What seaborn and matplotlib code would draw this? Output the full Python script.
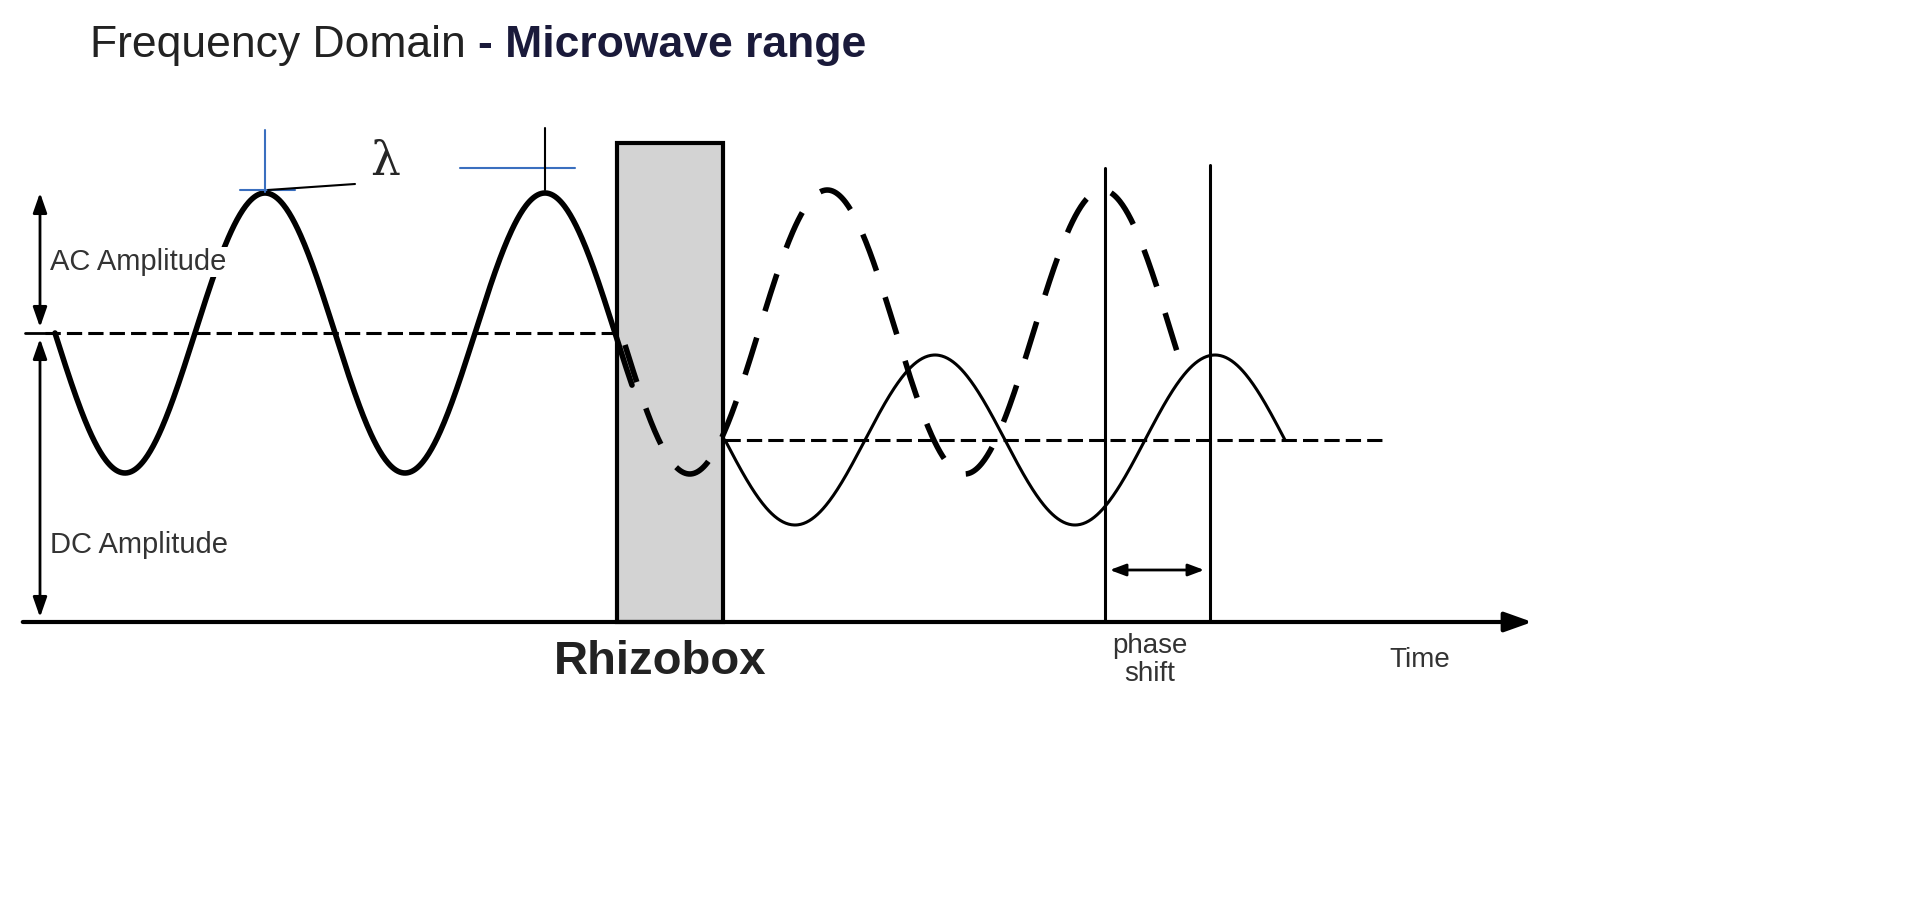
import numpy as np
import pandas as pd
import matplotlib
matplotlib.use("Agg")
import matplotlib.pyplot as plt
import seaborn as sns
from matplotlib.patches import Rectangle

sns.set_theme(style="white")
plt.rcParams['font.family'] = ['Liberation Sans', 'DejaVu Sans']

# wave parameters (pixel space): start x, end x, centre y, amplitude, period
input_wave = dict(x0=55, x1=632, yc=333, amp=140, period=280, start=55)
dashed_wave = dict(x0=625, x1=1180, yc=332, amp=142, period=275, start=621)
output_wave = dict(x0=725, x1=1285, yc=440, amp=85, period=280, start=725)
labels_text = ["AC Amplitude", "DC Amplitude", "phase\nshift", "Time", "Rhizobox"]

def wave(p):
    x = np.linspace(p["x0"], p["x1"], 600)
    y = p["yc"] + p["amp"] * np.sin(2 * np.pi * (x - p["start"]) / p["period"])
    return pd.DataFrame({"x": x, "y": y})

fig = plt.figure(figsize=(19.26, 9.11), dpi=100)
ax = fig.add_axes([0, 0, 1, 1])
ax.set_xlim(0, 1926)
ax.set_ylim(911, 0)
ax.axis("off")

# Rhizobox
ax.add_patch(Rectangle((617, 143), 106, 479, facecolor="#d3d3d3", edgecolor="black", lw=3, zorder=1))

sns.lineplot(data=wave(input_wave), x="x", y="y", ax=ax, color="black", lw=4, sort=False, zorder=2)
sns.lineplot(data=wave(dashed_wave), x="x", y="y", ax=ax, color="black", lw=4, sort=False,
             linestyle=(0, (7, 5)), zorder=3)
sns.lineplot(data=wave(output_wave), x="x", y="y", ax=ax, color="black", lw=2.2, sort=False, zorder=2)

# baselines
ax.plot([45, 615], [333, 333], color="black", lw=2.2, ls=(0, (5, 2)))
ax.plot([725, 1385], [440, 440], color="black", lw=2.2, ls=(0, (5, 2)))

# time axis
ax.annotate("", xy=(1535, 622), xytext=(20, 622),
            arrowprops=dict(arrowstyle="-|>,head_length=1.4,head_width=0.5", color="black", lw=3))
# left amplitude arrows
for a, b in [(190, 330), (336, 620)]:
    ax.annotate("", xy=(40, a), xytext=(40, b),
                arrowprops=dict(arrowstyle="<|-|>,head_length=1.0,head_width=0.35", color="black", lw=2))
ax.plot([25, 55], [333, 333], color="black", lw=2)

# phase lines
ax.plot([1105, 1105], [622, 168], color="black", lw=2.2)
ax.plot([1210, 1210], [622, 165], color="black", lw=2.2)
ax.annotate("", xy=(1107, 570), xytext=(1207, 570),
            arrowprops=dict(arrowstyle="<|-|>,head_length=0.8,head_width=0.3", color="black", lw=2))

# lambda markers
ax.plot([240, 295], [190, 190], color="#3a6fbf", lw=1.5)
ax.plot([265, 265], [130, 192], color="#3a6fbf", lw=1.5)
ax.plot([460, 575], [168, 168], color="#3a6fbf", lw=1.5)
ax.plot([545, 545], [128, 190], color="black", lw=1.5)
ax.plot([268, 355], [190, 184], color="black", lw=1.5)
ax.text(370, 162, "λ", fontsize=34, ha="left", va="center", family=["DejaVu Serif"])

# labels
ax.text(50, 262, labels_text[0], fontsize=21, color="#333333", va="center",
        bbox=dict(facecolor="white", edgecolor="none", pad=1), zorder=4)
ax.text(50, 545, labels_text[1], fontsize=21, color="#333333", va="center")
ax.text(1150, 660, labels_text[2], fontsize=20, color="#333333", ha="center", va="center", linespacing=1.1)
ax.text(1420, 660, labels_text[3], fontsize=20, color="#333333", ha="center", va="center")
ax.text(660, 662, labels_text[4], fontsize=34, fontweight="bold", color="#222222", ha="center", va="center")

# title
t1 = ax.text(90, 45, "Frequency Domain ", fontsize=32, color="#222222", va="center")
fig.canvas.draw()
bb = t1.get_window_extent()
ax.text(bb.x1, 45, "- Microwave range", fontsize=32, fontweight="bold", color="#1a1a3a", va="center")

fig.savefig("out.png", dpi=100)
